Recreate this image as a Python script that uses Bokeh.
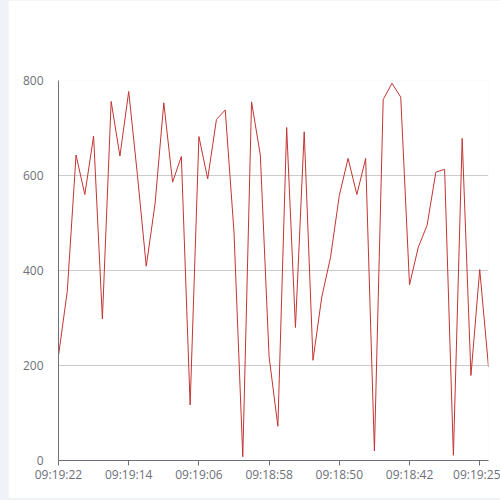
from bokeh.plotting import figure
from bokeh.models import Range1d, FixedTicker
from bokeh.embed import file_html
from bokeh.resources import INLINE

# ---- data ----
values = [221, 356, 643, 560, 683, 298, 756, 641, 777, 600,
          409, 540, 753, 586, 640, 117, 682, 593, 718, 738,
          481, 8, 755, 643, 218, 72, 701, 280, 692, 211,
          344, 428, 558, 636, 560, 636, 20, 760, 794, 765,
          370, 449, 495, 607, 613, 11, 678, 179, 402, 197]
x_index = list(range(len(values)))
tick_positions = [0, 8, 16, 24, 32, 40, 48]
tick_labels = ["09:19:22", "09:19:14", "09:19:06", "09:18:58",
               "09:18:50", "09:18:42", "09:19:25"]
y_ticks = [0, 200, 400, 600, 800]

AXIS = "#6e7079"
FONT = "Open Sans"

p = figure(width=492, height=498, output_backend="svg", toolbar_location=None,
           x_range=Range1d(0, len(values) - 1), y_range=Range1d(0, 800),
           min_border_left=50, min_border_right=12, min_border_top=80,
           min_border_bottom=38)
p.outline_line_color = None
p.background_fill_color = "white"
p.border_fill_color = "white"

p.line(x_index, values, line_color="#c23531", line_width=1)

# x axis
xa = p.xaxis[0]
xa.ticker = FixedTicker(ticks=tick_positions)
xa.major_label_overrides = {t: l for t, l in zip(tick_positions, tick_labels)}
xa.axis_line_color = AXIS
xa.major_tick_line_color = AXIS
xa.major_tick_out = 5
xa.major_tick_in = 0
xa.minor_tick_line_color = None
xa.major_label_text_color = AXIS
xa.major_label_text_font = FONT
xa.major_label_text_font_size = "12px"
xa.major_label_standoff = 0

# y axis
ya = p.yaxis[0]
ya.ticker = FixedTicker(ticks=y_ticks)
ya.axis_line_color = AXIS
ya.major_tick_line_color = None
ya.minor_tick_line_color = None
ya.major_label_text_color = AXIS
ya.major_label_text_font = FONT
ya.major_label_text_font_size = "12px"
ya.major_label_standoff = 9

p.xgrid.grid_line_color = None
p.ygrid.ticker = FixedTicker(ticks=[200, 400, 600, 800])
p.ygrid.grid_line_color = "#cccccc"
p.ygrid.grid_line_width = 1

html = file_html(p, INLINE)
html = html.replace("</head>",
                    "<style>body{background:#f1f2f7;margin:0 0 0 8px;}</style></head>", 1)
open("out.html", "w").write(html)
